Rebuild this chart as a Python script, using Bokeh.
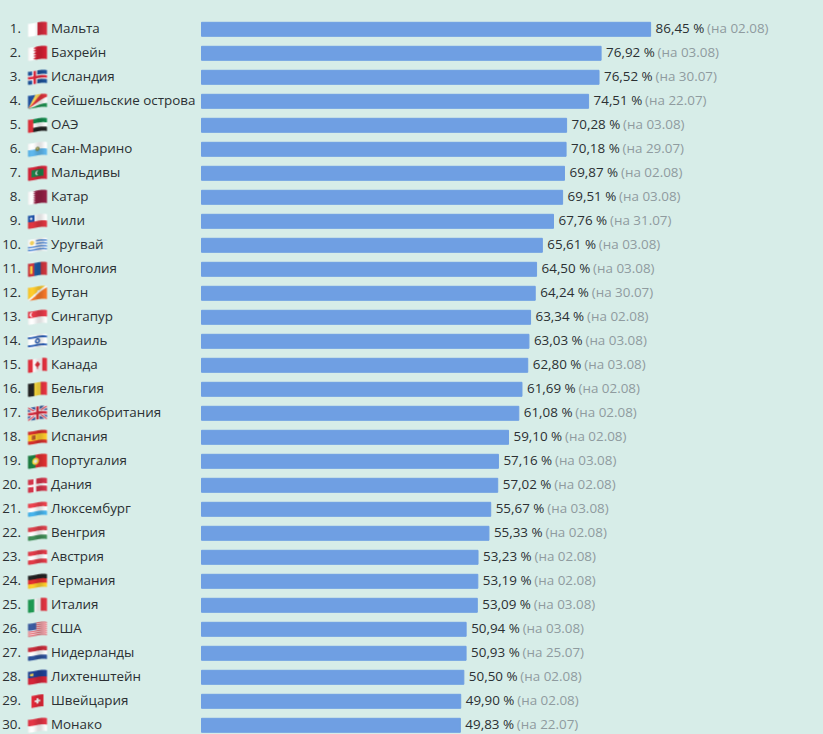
import numpy as np
from bokeh.plotting import figure
from bokeh.embed import file_html
from bokeh.resources import INLINE
from bokeh.models import Range1d, ColumnDataSource
from bokeh.core.properties import value

ranks = list(range(1, 31))
countries = ["Мальта","Бахрейн","Исландия","Сейшельские острова","ОАЭ","Сан-Марино","Мальдивы","Катар","Чили","Уругвай",
 "Монголия","Бутан","Сингапур","Израиль","Канада","Бельгия","Великобритания","Испания","Португалия","Дания",
 "Люксембург","Венгрия","Австрия","Германия","Италия","США","Нидерланды","Лихтенштейн","Швейцария","Монако"]
values = [86.45,76.92,76.52,74.51,70.28,70.18,69.87,69.51,67.76,65.61,64.50,64.24,63.34,63.03,62.80,61.69,61.08,59.10,57.16,57.02,
 55.67,55.33,53.23,53.19,53.09,50.94,50.93,50.50,49.90,49.83]
dates = ["02.08","03.08","30.07","22.07","03.08","29.07","02.08","03.08","31.07","03.08","03.08","30.07","02.08","03.08","03.08",
 "02.08","02.08","02.08","03.08","02.08","03.08","02.08","02.08","02.08","03.08","03.08","25.07","02.08","02.08","22.07"]

BG="#d7ede8"; BAR="#6f9fe3"; DARK="#2b3033"; GREY="#8f9b9f"
FONT="Open Sans"; FS="13.4px"

# ---------- flag painters: each colours a (u, v) grid in the flag's unit square ----------
def rgb(h):
    h=h.lstrip("#"); return np.array([int(h[i:i+2],16) for i in (0,2,4)],float)
def hs(u,v,cols,w=None):
    w=np.array(w if w else [1]*len(cols),float); e=np.cumsum(w)/w.sum()
    idx=np.clip(np.searchsorted(e,np.clip(v,0,.9999),side="right"),0,len(cols)-1)
    return np.array([rgb(c) for c in cols])[idx]
def vs(u,v,cols,w=None):
    return hs(v,u,cols,w)
def put(a,m,c):
    a[m]=rgb(c)
def tri(t):
    return np.abs((t%1)-.5)*2
AR=1.5
def circle(u,v,cu,cv,r):
    return ((u-cu)*AR)**2+(v-cv)**2<=r*r

def malta(u,v): return vs(u,v,["#ffffff","#cf2a3c"])
def bahrain(u,v):
    a=hs(u,v,["#f6f6f6"]); put(a,u>.27+.17*tri(v*5),"#ce1e32"); return a
def iceland(u,v):
    a=hs(u,v,["#1c4f94"]); 
    put(a,(abs(u-.36)<.13)|(abs(v-.5)<.19),"#f4f4f4"); put(a,(abs(u-.36)<.065)|(abs(v-.5)<.095),"#d8283c"); return a
def seychelles(u,v):
    ang=np.degrees(np.arctan2((1-v),np.maximum(u,1e-3)*AR))
    e=np.array([12,28,44,60]); idx=np.searchsorted(e,ang)
    return np.array([rgb(c) for c in ["#1d8a4c","#f2f2f2","#d6333c","#f6d45a","#1f4f9c"]])[idx]
def uae(u,v):
    a=hs(u,v,["#12864a","#f6f6f6","#222222"]); put(a,u<.27,"#d8303a"); return a
def sanmarino(u,v):
    a=hs(u,v,["#f8f8f8","#5cb2e6"]); put(a,circle(u,v,.5,.5,.17),"#7f8e5a"); put(a,circle(u,v,.5,.47,.07),"#d8c26a"); return a
def maldives(u,v):
    a=hs(u,v,["#cf2438"]); put(a,(abs(u-.5)<.32)&(abs(v-.5)<.27),"#1c7d47")
    put(a,circle(u,v,.5,.5,.17)&~circle(u,v,.56,.5,.15),"#f4f4f4"); return a
def qatar(u,v):
    a=hs(u,v,["#f6f6f6"]); put(a,u>.26+.14*tri(v*7),"#8e1f42"); return a
def chile(u,v):
    a=hs(u,v,["#f6f6f6","#d9353f"]); put(a,(u<.34)&(v<.5),"#1d4fa2"); put(a,circle(u,v,.17,.25,.09),"#f6f6f6"); return a
def uruguay(u,v):
    a=hs(u,v,["#f6f6f6","#4a83cf"]*4+["#f6f6f6"]); put(a,(u<.42)&(v<.56),"#f6f6f6"); put(a,circle(u,v,.21,.28,.17),"#e9c95a"); return a
def mongolia(u,v):
    a=vs(u,v,["#c8343c","#1d5aa0","#c8343c"]); put(a,(abs(u-.17)<.07)&(abs(v-.5)<.3),"#f2c83c"); return a
def bhutan(u,v):
    a=hs(u,v,["#f7c62c"]); put(a,(u+v*1.0)>1,"#ee7428")
    put(a,abs(u+v-1)<.09,"#f2f2f2"); put(a,circle(u,v,.55,.4,.1),"#f2f2f2"); put(a,circle(u,v,.35,.65,.1),"#f2f2f2"); return a
def singapore(u,v):
    a=hs(u,v,["#e23a48","#f6f6f6"]); put(a,circle(u,v,.2,.25,.17)&~circle(u,v,.27,.25,.15),"#f6f6f6"); return a
def israel(u,v):
    a=hs(u,v,["#f8f8f8","#2a5cb0","#f8f8f8","#2a5cb0","#f8f8f8"],[1,1.2,4,1.2,1])
    put(a,circle(u,v,.5,.5,.2)&~circle(u,v,.5,.5,.09),"#2a5cb0"); return a
def canada(u,v):
    a=vs(u,v,["#dc2f3c","#f8f8f8","#dc2f3c"],[1,2,1])
    put(a,(abs(u-.5)*1.4+abs(v-.47)*.8<.2)|((abs(u-.5)<.025)&(v>.5)&(v<.82)),"#dc2f3c"); return a
def belgium(u,v): return vs(u,v,["#222222","#f4d43c","#e0323e"])
def uk(u,v):
    a=hs(u,v,["#2a4a90"]); d1=abs(u-v); d2=abs(u+v-1)
    put(a,(d1<.13)|(d2<.13),"#f4f4f4"); put(a,(d1<.05)|(d2<.05),"#cf2a3c")
    put(a,(abs(u-.5)<.12)|(abs(v-.5)<.18),"#f4f4f4"); put(a,(abs(u-.5)<.07)|(abs(v-.5)<.1),"#cf2a3c"); return a
def spain(u,v):
    a=hs(u,v,["#cf2f2c","#f5c52c","#cf2f2c"],[1,2,1]); put(a,(abs(u-.3)<.1)&(abs(v-.5)<.17),"#a8552c"); return a
def portugal(u,v):
    a=vs(u,v,["#1c7a3f","#da2f30"],[2,3]); put(a,circle(u,v,.4,.5,.27),"#f2d23c"); put(a,circle(u,v,.4,.5,.14),"#e8e8e8"); return a
def denmark(u,v):
    a=hs(u,v,["#cf3348"]); put(a,(abs(u-.36)<.07)|(abs(v-.5)<.09),"#f4f4f4"); return a
def luxembourg(u,v): return hs(u,v,["#e6414c","#f6f6f6","#45afe6"])
def hungary(u,v): return hs(u,v,["#d6404a","#f6f6f6","#3f8a55"])
def austria(u,v): return hs(u,v,["#dc3a46","#f6f6f6","#dc3a46"])
def germany(u,v): return hs(u,v,["#222222","#dc2f2f","#f6c92c"])
def italy(u,v): return vs(u,v,["#1f9450","#f6f6f6","#dc3440"])
def usa(u,v):
    a=hs(u,v,["#d8404c","#f6f6f6"]*6+["#d8404c"]); put(a,(u<.44)&(v<.54),"#3a5a9c"); return a
def netherlands(u,v): return hs(u,v,["#c42c3a","#f6f6f6","#2c4f96"])
def liechtenstein(u,v):
    a=hs(u,v,["#1f3f92","#cf2438"]); put(a,(abs(u-.2)<.09)&(abs(v-.27)<.09),"#e6c850"); return a
def switzerland(u,v):
    a=hs(u,v,["#dc2838"]); put(a,((abs(u-.5)<.22)&(abs(v-.5)<.08))|((abs(u-.5)<.08)&(abs(v-.5)<.22)),"#f8f8f8"); return a
def monaco(u,v): return hs(u,v,["#dc3444","#f6f6f6"])

painters=[malta,bahrain,iceland,seychelles,uae,sanmarino,maldives,qatar,chile,uruguay,mongolia,bhutan,singapore,israel,canada,
 belgium,uk,spain,portugal,denmark,luxembourg,hungary,austria,germany,italy,usa,netherlands,liechtenstein,switzerland,monaco]

W,H=20,16; SS=4
def render(fn,square=False):
    xs=(np.arange(W*SS)+.5)/SS; ys=(np.arange(H*SS)+.5)/SS
    X,Y=np.meshgrid(xs,ys)
    x0,fw,fh=(4,12,12) if square else (0.5,19,13)
    wave=1.0*np.cos(1.25*np.pi*(X-.5)/19)
    y0=(H-fh)/2
    u=(X-x0)/fw; v=(Y-wave-y0)/fh
    inside=(u>=0)&(u<=1)&(v>=0)&(v<=1)
    col=fn(u,v)*(1+0.07*np.sin(2.5*np.pi*(X-.5)/19))[...,None]*0.97
    col=np.clip(col,0,255)
    al=inside.astype(float)
    pm=col*al[...,None]
    pm=pm.reshape(H,SS,W,SS,3).mean(axis=(1,3)); al=al.reshape(H,SS,W,SS).mean(axis=(1,3))
    c=np.where(al[...,None]>0,pm/np.maximum(al[...,None],1e-6),0)
    out=np.zeros((H,W,4),dtype=np.uint8); out[...,:3]=np.clip(c,0,255); out[...,3]=(al*255).astype(np.uint8)
    return np.frombuffer(out.tobytes(),dtype=np.uint32).reshape(H,W)

images=[render(f,f is switzerland) for f in painters]

SCALE=5.195
p = figure(width=823, height=734, output_backend="svg", toolbar_location=None,
           x_range=Range1d(-201/SCALE,(823-201)/SCALE), y_range=Range1d(-0.2+734/24,-0.2),
           background_fill_color=BG, border_fill_color=BG, outline_line_color=None,
           min_border=0, x_axis_type=None, y_axis_type=None)
p.grid.visible=False
p.extra_x_ranges["px"]=Range1d(0,823)

src = ColumnDataSource(dict(rank=ranks, name=countries, val=values,
    rl=[f"{r}." for r in ranks],
    vl=[f"{v:.2f}".replace(".",",")+" %" for v in values],
    dl=[f"(на {d})" for d in dates],
    rx=[20.5]*30, nx=[50.5]*30))
p.hbar(y="rank", left=0, right="val", height=14/24, color=BAR, source=src)

p.image_rgba(image=images, x=[27]*30, y=[r-H/48 for r in ranks], dw=[W]*30, dh=[H/24]*30, x_range_name="px")

common=dict(text_font=value(FONT), text_font_size=FS, text_baseline="middle", y_offset=-1, source=src)
p.text(x="rx", y="rank", text="rl", text_align="right", text_color=DARK, x_range_name="px", **common)
p.text(x="nx", y="rank", text="name", text_align="left", text_color=DARK, x_range_name="px", **common)
p.text(x="val", y="rank", text="vl", text_align="left", text_color=DARK, x_offset=5, **common)
p.text(x="val", y="rank", text="dl", text_align="left", text_color=GREY, x_offset=56.5, **common)

html=file_html(p, INLINE)
html=html.replace("<head>","<head><style>html,body{margin:0!important;padding:0;overflow:hidden;background:#d7ede8}</style>",1)
open("out.html","w").write(html)
